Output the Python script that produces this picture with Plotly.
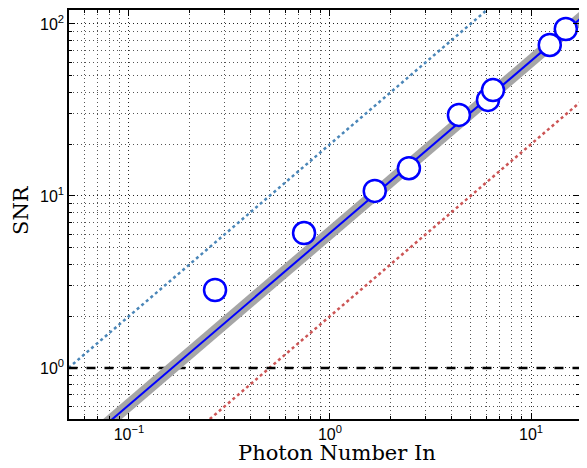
import numpy as np
import plotly.graph_objects as go

# Measured data points
photon_in = [0.268, 0.743, 1.67, 2.47, 4.38, 6.11, 6.47, 12.4, 14.9]
snr_meas = [2.84, 6.09, 10.7, 14.5, 29.6, 36.2, 41.3, 75.5, 93.5]

# Model lines: SNR = gain * N
x_line = [0.05, 19.0]
fit_gain = 6.1
upper_gain = 20.0
lower_gain = 2.0
threshold = 1.0

x_tickvals = [0.1, 1, 10]
x_ticktext = ["10<sup>−1</sup>", "10<sup>0</sup>", "10<sup>1</sup>"]
y_tickvals = [1, 10, 100]
y_ticktext = ["10<sup>0</sup>", "10<sup>1</sup>", "10<sup>2</sup>"]

xl = np.array(x_line)
fig = go.Figure()
fig.add_trace(go.Scatter(x=xl, y=upper_gain * xl, mode="lines",
                         line=dict(color="#4a86b8", width=2.5, dash="dot"), showlegend=False))
fig.add_trace(go.Scatter(x=xl, y=lower_gain * xl, mode="lines",
                         line=dict(color="#cc5555", width=2.5, dash="dot"), showlegend=False))
fig.add_trace(go.Scatter(x=xl, y=[threshold, threshold], mode="lines",
                         line=dict(color="black", width=2.5, dash="dash"), showlegend=False))
fig.add_trace(go.Scatter(x=xl, y=fit_gain * xl, mode="lines",
                         line=dict(color="#a6a6a6", width=12), showlegend=False))
fig.add_trace(go.Scatter(x=xl, y=fit_gain * xl, mode="lines",
                         line=dict(color="#0000ff", width=2), showlegend=False))
fig.add_trace(go.Scatter(x=photon_in, y=snr_meas, mode="markers",
                         marker=dict(symbol="circle", size=22, color="white",
                                     line=dict(color="#0000ff", width=2.5)),
                         showlegend=False))

minor_x = [m * 10.0 ** e for e in range(-2, 2) for m in range(2, 10)]
minor_y = [m * 10.0 ** e for e in range(-1, 3) for m in range(2, 10)]

grid_common = dict(showgrid=True, gridcolor="#222", griddash="1px,3px", gridwidth=1)
minor_common = dict(ticks="inside", ticklen=3, tickcolor="black",
                    showgrid=True, gridcolor="#555", griddash="1px,3px", gridwidth=1)
tickfont = dict(family="Liberation Sans, Arial", size=16, color="black")

fig.update_xaxes(type="log", range=[np.log10(0.0503), 1 + 48 / 201],
                 tickvals=x_tickvals, ticktext=x_ticktext,
                 ticks="inside", ticklen=6, tickcolor="black",
                 showline=True, linecolor="black", linewidth=1.5, mirror="ticks",
                 zeroline=False, automargin=False,
                 minor=dict(tickvals=minor_x, **minor_common),
                 tickfont=tickfont, **grid_common)
fig.update_yaxes(type="log", range=[np.log10(0.505), np.log10(120.6)],
                 tickvals=y_tickvals, ticktext=y_ticktext,
                 ticks="inside", ticklen=6, tickcolor="black",
                 showline=True, linecolor="black", linewidth=1.5, mirror="ticks",
                 zeroline=False, automargin=False,
                 minor=dict(tickvals=minor_y, **minor_common),
                 tickfont=tickfont, **grid_common)

# page body has an 8px margin: the figure is shifted by (8, 8) in the window
title_font = dict(family="DejaVu Serif, Liberation Serif", size=21, color="black")
fig.update_layout(
    width=571, height=460,
    margin=dict(l=61, r=0, t=2, b=49),
    plot_bgcolor="white", paper_bgcolor="white",
    annotations=[
        dict(text="Photon Number In", xref="paper", yref="paper",
             x=(337 - 69) / (579 - 69), y=0, yshift=-48, xanchor="center", yanchor="bottom",
             showarrow=False, font=title_font),
        dict(text="SNR", xref="paper", yref="paper", textangle=-90,
             x=0, xshift=-48, y=(419 - 210) / (419 - 10), xanchor="center", yanchor="middle",
             showarrow=False, font=title_font),
    ],
)

fig.write_html("out.html")
